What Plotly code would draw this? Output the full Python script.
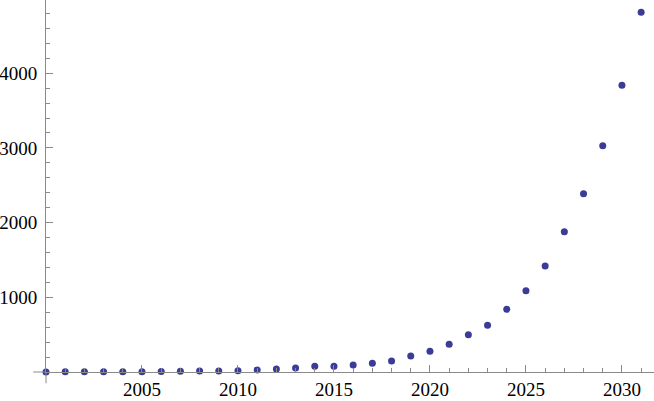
import plotly.graph_objects as go

# data
years = list(range(2000, 2032))
values = [1, 2, 2, 3, 4, 5, 7, 9, 12, 14, 18, 27, 40, 54, 76, 78,
          94, 116, 147, 214, 277, 370, 500, 625, 839, 1088, 1419, 1878,
          2387, 3029, 3838, 4815]
x_ticks = [2005, 2010, 2015, 2020, 2025, 2030]
y_ticks = [1000, 2000, 3000, 4000]

AXIS = "#8a8a8a"
DOT = "#3b3b98"
FONT = dict(family="Liberation Serif", size=19, color="black")

fig = go.Figure()
fig.add_trace(go.Scatter(
    x=years, y=values, mode="markers",
    marker=dict(color=DOT, size=7),
    cliponaxis=False, hoverinfo="x+y",
))

# little axis stubs past the origin, as in the original
fig.add_shape(type="line", xref="paper", yref="paper", x0=-0.021, x1=0, y0=0, y1=0,
              line=dict(color=AXIS, width=1))
fig.add_shape(type="line", xref="paper", yref="paper", x0=0, x1=0, y0=-0.03, y1=0,
              line=dict(color=AXIS, width=1))

fig.update_xaxes(
    range=[2000, 2031.67], showgrid=False, zeroline=False, automargin=False,
    showline=True, linecolor=AXIS, linewidth=1,
    tickmode="array", tickvals=x_ticks, ticktext=[str(v) for v in x_ticks],
    ticks="inside", ticklen=7, tickcolor=AXIS, tickwidth=1,
    minor=dict(tickmode="linear", tick0=2000, dtick=1, ticks="inside",
               ticklen=4, tickcolor=AXIS, tickwidth=1, showgrid=False),
    tickfont=FONT, ticklabelstandoff=0,
)
fig.update_yaxes(
    range=[0, 4980], showgrid=False, zeroline=False, automargin=False,
    showline=True, linecolor=AXIS, linewidth=1,
    tickmode="array", tickvals=y_ticks, ticktext=[str(v) for v in y_ticks],
    ticks="inside", ticklen=7, tickcolor=AXIS, tickwidth=1,
    minor=dict(tickmode="linear", tick0=0, dtick=200, ticks="inside",
               ticklen=4, tickcolor=AXIS, tickwidth=1, showgrid=False),
    tickfont=FONT, ticklabelstandoff=4,
)

fig.update_layout(
    width=654, height=401,
    margin=dict(l=46, r=0, t=0, b=29),
    paper_bgcolor="white", plot_bgcolor="white",
    showlegend=False,
)

# drop the page's default body margin so the figure sits at the window corner
fig.write_html("out.html", config={"displayModeBar": False},
               post_script="document.body.style.margin='0';")
